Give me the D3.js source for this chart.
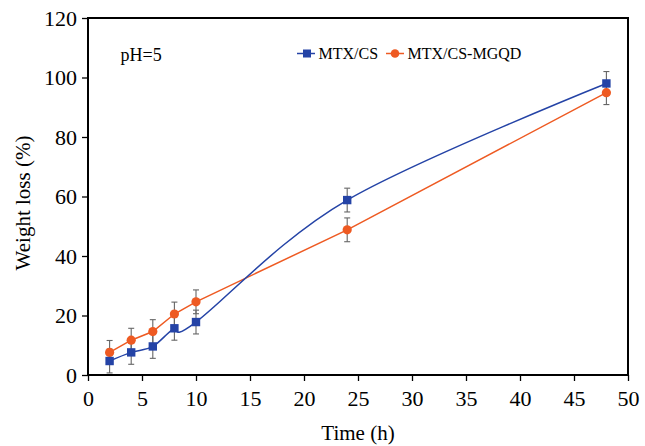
<!DOCTYPE html>
<html><head><meta charset="utf-8">
<script src="https://cdn.jsdelivr.net/npm/d3@7"></script>
<style>body{margin:0;background:#fff}svg{display:block}text{font-family:"Liberation Serif","Times New Roman",serif;fill:#000}</style>
</head><body>
<svg id="c" width="645" height="446"></svg>
<script>
const time = [2, 4, 6, 8, 10, 24, 48];
const mtxCS = [4.7, 7.6, 9.6, 15.7, 17.8, 58.8, 98];
const mtxCSErr = [4, 4, 4, 4, 4, 4, 4];
const mtxMGQD = [7.6, 11.7, 14.6, 20.5, 24.6, 48.8, 94.9];
const mtxMGQDErr = [4, 4, 4, 4, 4, 4, 4];
const xTicks = [0, 5, 10, 15, 20, 25, 30, 35, 40, 45, 50];
const yTicks = [0, 20, 40, 60, 80, 100, 120];
const seriesNames = ["MTX/CS", "MTX/CS-MGQD"];

const svg = d3.select("#c");
const L = 88, R = 628, T = 18, B = 375;
const x = d3.scaleLinear().domain([0, 50]).range([L, R]);
const y = d3.scaleLinear().domain([0, 120]).range([B, T]);
const blue = "#2443a6", orange = "#ee5a22";

// axes
const xa = svg.append("g").attr("transform", `translate(0,${B})`)
  .call(d3.axisBottom(x).tickValues(xTicks).tickSize(6).tickPadding(9).tickFormat(d3.format("d")));
const ya = svg.append("g").attr("transform", `translate(${L},0)`)
  .call(d3.axisLeft(y).tickValues(yTicks).tickSize(6).tickPadding(5).tickFormat(d3.format("d")));
[xa, ya].forEach(a => {
  a.select(".domain").remove();
  a.selectAll(".tick line").attr("stroke", "#000").attr("stroke-width", 1.3);
  a.selectAll(".tick text").style("font-size", "22px").style("font-family", '"Liberation Serif",serif');
});
// frame
svg.append("rect").attr("x", L).attr("y", T).attr("width", R - L).attr("height", B - T)
  .attr("fill", "none").attr("stroke", "#000").attr("stroke-width", 2);

// error bars
function errBars(vals, errs) {
  const g = svg.append("g").attr("stroke", "#666").attr("stroke-width", 1.1);
  time.forEach((t, i) => {
    const cx = x(t), y1 = y(vals[i] - errs[i]), y2 = y(vals[i] + errs[i]);
    g.append("line").attr("x1", cx).attr("x2", cx).attr("y1", y1).attr("y2", y2);
    g.append("line").attr("x1", cx - 3).attr("x2", cx + 3).attr("y1", y1).attr("y2", y1);
    g.append("line").attr("x1", cx - 3).attr("x2", cx + 3).attr("y1", y2).attr("y2", y2);
  });
}
errBars(mtxCS, mtxCSErr);
errBars(mtxMGQD, mtxMGQDErr);

// lines
const lineBlue = d3.line().x((d, i) => x(time[i])).y(d => y(d)).curve(d3.curveCardinal.tension(0));
const lineOrange = d3.line().x((d, i) => x(time[i])).y(d => y(d));
svg.append("path").attr("d", lineOrange(mtxMGQD)).attr("fill", "none").attr("stroke", orange).attr("stroke-width", 1.5);
svg.append("path").attr("d", lineBlue(mtxCS)).attr("fill", "none").attr("stroke", blue).attr("stroke-width", 1.5);

// markers
svg.append("g").selectAll("circle").data(mtxMGQD).join("circle")
  .attr("cx", (d, i) => x(time[i])).attr("cy", d => y(d)).attr("r", 4.6).attr("fill", orange);
svg.append("g").selectAll("rect").data(mtxCS).join("rect")
  .attr("x", (d, i) => x(time[i]) - 4.2).attr("y", d => y(d) - 4.2).attr("width", 8.4).attr("height", 8.4).attr("fill", blue);

// legend
const lg = svg.append("g");
lg.append("line").attr("x1", 297).attr("x2", 315).attr("y1", 53.5).attr("y2", 53.5).attr("stroke", blue).attr("stroke-width", 1.5);
lg.append("rect").attr("x", 303).attr("y", 49.5).attr("width", 8).attr("height", 8).attr("fill", blue);
lg.append("text").attr("x", 318.5).attr("y", 58.5).style("font-size", "16px").text(seriesNames[0]);
lg.append("line").attr("x1", 386).attr("x2", 404).attr("y1", 53.5).attr("y2", 53.5).attr("stroke", orange).attr("stroke-width", 1.5);
lg.append("circle").attr("cx", 395).attr("cy", 53.5).attr("r", 4.3).attr("fill", orange);
lg.append("text").attr("x", 407.5).attr("y", 58.5).style("font-size", "16px").text(seriesNames[1]);

svg.append("text").attr("x", 120.5).attr("y", 61).style("font-size", "18px").text("pH=5");

// titles
svg.append("text").attr("x", 358).attr("y", 440).attr("text-anchor", "middle").style("font-size", "21px").text("Time (h)");
svg.append("text").attr("transform", "translate(30,203) rotate(-90)").attr("text-anchor", "middle").style("font-size", "21px").text("Weight loss (%)");
</script>
</body></html>
